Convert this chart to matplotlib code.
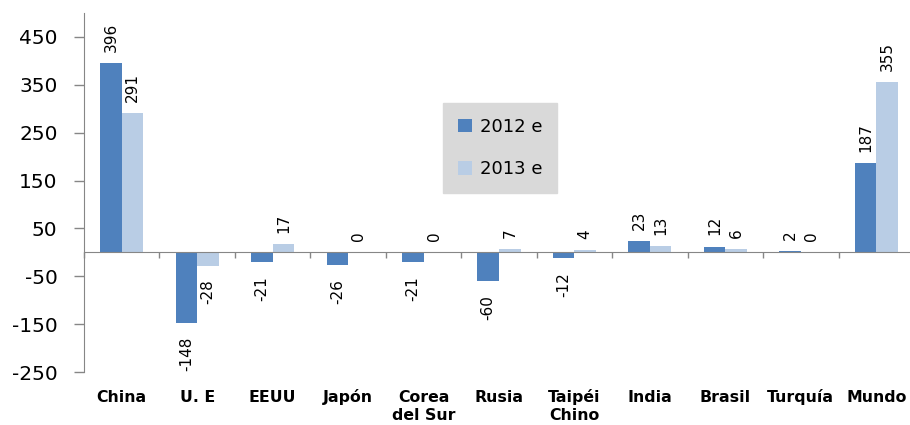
import matplotlib.pyplot as plt
import numpy as np

plt.rcParams['axes.unicode_minus'] = False

categories = ['China', 'U. E', 'EEUU', 'Japón', 'Corea\ndel Sur', 'Rusia',
              'Taipéi\nChino', 'India', 'Brasil', 'Turquía', 'Mundo']
vals_2012 = [396, -148, -21, -26, -21, -60, -12, 23, 12, 2, 187]
vals_2013 = [291, -28, 17, 0, 0, 7, 4, 13, 6, 0, 355]
series_names = ['2012 e', '2013 e']
yticks = [-250, -150, -50, 50, 150, 250, 350, 450]

c2012 = '#4f81bd'
c2013 = '#b9cde5'
axis_gray = '#868686'

fig = plt.figure(figsize=(9.1, 4.25), dpi=100)
# axes run a little past the right edge, like the original
ax = fig.add_axes([84 / 910, 53 / 425, 830 / 910, 359 / 425])

x = np.arange(len(categories))
w = 0.285
bars1 = ax.bar(x - w / 2, vals_2012, w, color=c2012, label=series_names[0])
bars2 = ax.bar(x + w / 2, vals_2013, w, color=c2013, label=series_names[1])

ax.set_xlim(-0.5, len(categories) - 0.5)
ax.set_ylim(-250, 500)

# spines
for s in ['top', 'right']:
    ax.spines[s].set_visible(False)
ax.spines['left'].set_color(axis_gray)
ax.spines['bottom'].set_position(('data', 0))
ax.spines['bottom'].set_color(axis_gray)

ax.set_yticks(yticks)
ax.tick_params(axis='y', colors=axis_gray, labelcolor='black', labelsize=14.5,
               length=7, width=1, pad=12)
ax.set_xticks(np.arange(len(categories) + 1) - 0.5)
ax.set_xticklabels([])
ax.tick_params(axis='x', colors=axis_gray, length=4, width=1)

# category labels below the plot, first line of each on a common baseline
for i, name in enumerate(categories):
    for j, line in enumerate(name.split('\n')):
        ax.annotate(line, (i, 0), xycoords=ax.get_xaxis_transform(),
                    xytext=(0, -21.5 - 13 * j), textcoords='offset points',
                    ha='center', va='baseline', fontsize=11.3, fontweight='bold',
                    annotation_clip=False)

# data labels
for bars, vals in ((bars1, vals_2012), (bars2, vals_2013)):
    for b, v in zip(bars, vals):
        cx = b.get_x() + b.get_width() / 2
        if v >= 0:
            ax.annotate(f'{v}', (cx, v), xytext=(0, 8), textcoords='offset points',
                        ha='center', va='bottom', rotation=90, fontsize=11)
        else:
            ax.annotate(f'{v}', (cx, v), xytext=(0, -10), textcoords='offset points',
                        ha='center', va='top', rotation=90, fontsize=11)

leg = fig.legend(loc='center', bbox_to_anchor=(500 / 910, 1 - 148 / 425),
                 fontsize=13, frameon=True, fancybox=False, labelspacing=1.35,
                 handlelength=0.8, handleheight=0.8, handletextpad=0.4,
                 borderpad=0.8, borderaxespad=0)
leg.get_frame().set_facecolor('#d9d9d9')
leg.get_frame().set_edgecolor('#d9d9d9')
leg.get_frame().set_alpha(1)

fig.savefig('out.png', dpi=100)
